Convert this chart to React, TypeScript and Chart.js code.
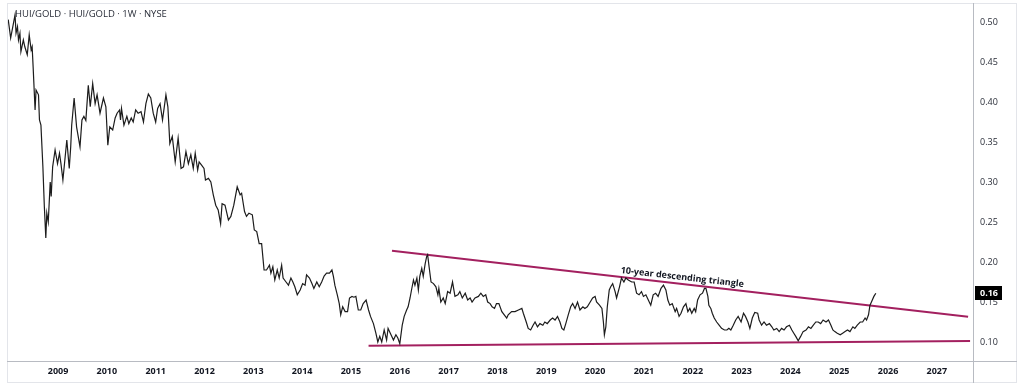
import React, { useEffect, useRef } from "react";
import { Chart, registerables } from "chart.js";

Chart.register(...registerables);

const titleText = "HUI/GOLD · HUI/GOLD · 1W · NYSE";
const annotationText = "10-year descending triangle";
const annotationDate = 2021.77;

const yearTicks = [2009, 2010, 2011, 2012, 2013, 2014, 2015, 2016, 2017, 2018, 2019, 2020, 2021, 2022, 2023, 2024, 2025, 2026, 2027];
const priceTicks = [0.1, 0.15, 0.2, 0.25, 0.3, 0.35, 0.4, 0.45, 0.5];

const dates = [
  2007.98, 2008.03, 2008.08, 2008.12, 2008.14, 2008.17, 2008.19, 2008.22, 2008.24, 2008.29,
  2008.32, 2008.37, 2008.41, 2008.45, 2008.47, 2008.49, 2008.53, 2008.55, 2008.6, 2008.62,
  2008.65, 2008.69, 2008.72, 2008.75, 2008.77, 2008.8, 2008.84, 2008.86, 2008.89, 2008.94,
  2008.99, 2009.03, 2009.06, 2009.1, 2009.14, 2009.18, 2009.23, 2009.26, 2009.28, 2009.33,
  2009.38, 2009.45, 2009.49, 2009.53, 2009.57, 2009.62, 2009.66, 2009.71, 2009.76, 2009.8,
  2009.86, 2009.93, 2009.98, 2010.02, 2010.06, 2010.12, 2010.17, 2010.21, 2010.26, 2010.28,
  2010.3, 2010.35, 2010.41, 2010.45, 2010.5, 2010.54, 2010.59, 2010.64, 2010.7, 2010.75,
  2010.8, 2010.85, 2010.9, 2010.95, 2011.0, 2011.04, 2011.09, 2011.14, 2011.21, 2011.25,
  2011.29, 2011.34, 2011.4, 2011.46, 2011.52, 2011.57, 2011.62, 2011.67, 2011.72, 2011.77,
  2011.81, 2011.86, 2011.89, 2011.94, 2011.99, 2012.02, 2012.08, 2012.13, 2012.18, 2012.23,
  2012.28, 2012.33, 2012.36, 2012.42, 2012.49, 2012.54, 2012.6, 2012.67, 2012.73, 2012.76,
  2012.82, 2012.86, 2012.91, 2012.98, 2013.02, 2013.07, 2013.12, 2013.17, 2013.22, 2013.27,
  2013.33, 2013.36, 2013.4, 2013.44, 2013.49, 2013.53, 2013.58, 2013.61, 2013.67, 2013.72,
  2013.77, 2013.81, 2013.85, 2013.9, 2013.96, 2014.01, 2014.06, 2014.09, 2014.15, 2014.2,
  2014.24, 2014.3, 2014.35, 2014.4, 2014.45, 2014.5, 2014.56, 2014.61, 2014.64, 2014.67,
  2014.72, 2014.76, 2014.79, 2014.83, 2014.88, 2014.93, 2014.97, 2015.02, 2015.06, 2015.1,
  2015.15, 2015.2, 2015.25, 2015.31, 2015.36, 2015.4, 2015.46, 2015.51, 2015.55, 2015.59,
  2015.63, 2015.68, 2015.73, 2015.76, 2015.82, 2015.87, 2015.92, 2015.96, 2016.0, 2016.05,
  2016.09, 2016.14, 2016.17, 2016.21, 2016.24, 2016.28, 2016.31, 2016.35, 2016.38, 2016.41,
  2016.45, 2016.48, 2016.52, 2016.55, 2016.57, 2016.6, 2016.64, 2016.69, 2016.74, 2016.78,
  2016.8, 2016.84, 2016.89, 2016.93, 2016.98, 2017.03, 2017.08, 2017.13, 2017.19, 2017.23,
  2017.28, 2017.34, 2017.39, 2017.44, 2017.48, 2017.54, 2017.61, 2017.66, 2017.71, 2017.76,
  2017.8, 2017.85, 2017.89, 2017.94, 2017.98, 2018.03, 2018.09, 2018.14, 2018.19, 2018.22,
  2018.29, 2018.36, 2018.43, 2018.5, 2018.53, 2018.59, 2018.63, 2018.68, 2018.73, 2018.77,
  2018.82, 2018.87, 2018.93, 2018.97, 2019.02, 2019.08, 2019.13, 2019.18, 2019.23, 2019.28,
  2019.32, 2019.36, 2019.4, 2019.45, 2019.5, 2019.54, 2019.59, 2019.64, 2019.69, 2019.75,
  2019.79, 2019.84, 2019.9, 2019.95, 2020.0, 2020.03, 2020.09, 2020.14, 2020.17, 2020.19,
  2020.22, 2020.25, 2020.29, 2020.32, 2020.36, 2020.41, 2020.44, 2020.5, 2020.54, 2020.59,
  2020.63, 2020.68, 2020.75, 2020.8, 2020.85, 2020.9, 2020.95, 2020.99, 2021.04, 2021.09,
  2021.14, 2021.19, 2021.24, 2021.29, 2021.35, 2021.4, 2021.45, 2021.49, 2021.53, 2021.58,
  2021.64, 2021.67, 2021.72, 2021.76, 2021.81, 2021.86, 2021.9, 2021.94, 2021.98, 2022.03,
  2022.06, 2022.1, 2022.15, 2022.2, 2022.24, 2022.27, 2022.31, 2022.33, 2022.37, 2022.4,
  2022.44, 2022.49, 2022.54, 2022.59, 2022.65, 2022.7, 2022.74, 2022.78, 2022.83, 2022.88,
  2022.93, 2022.99, 2023.04, 2023.08, 2023.13, 2023.17, 2023.22, 2023.27, 2023.33, 2023.36,
  2023.41, 2023.46, 2023.51, 2023.57, 2023.62, 2023.66, 2023.72, 2023.77, 2023.82, 2023.87,
  2023.92, 2023.98, 2024.03, 2024.07, 2024.11, 2024.16, 2024.21, 2024.26, 2024.32, 2024.37,
  2024.42, 2024.47, 2024.52, 2024.57, 2024.62, 2024.67, 2024.73, 2024.78, 2024.83, 2024.87,
  2024.91, 2024.96, 2025.02, 2025.07, 2025.12, 2025.17, 2025.22, 2025.28, 2025.32, 2025.37,
  2025.43, 2025.48, 2025.53, 2025.56, 2025.6, 2025.63, 2025.66, 2025.71, 2025.75,
];

const values = [
  0.503, 0.48, 0.496, 0.509, 0.486, 0.494, 0.4775, 0.486, 0.463, 0.4775,
  0.469, 0.459, 0.484, 0.465, 0.469, 0.444, 0.39, 0.415, 0.409, 0.3775,
  0.371, 0.319, 0.269, 0.23, 0.261, 0.25, 0.3, 0.282, 0.319, 0.34,
  0.323, 0.336, 0.323, 0.3025, 0.3275, 0.3525, 0.317, 0.344, 0.371, 0.405,
  0.369, 0.344, 0.3775, 0.382, 0.377, 0.421, 0.394, 0.423, 0.398, 0.409,
  0.386, 0.405, 0.394, 0.346, 0.369, 0.365, 0.38, 0.386, 0.39, 0.3775,
  0.392, 0.371, 0.382, 0.373, 0.38, 0.375, 0.39, 0.386, 0.388, 0.375,
  0.398, 0.41, 0.405, 0.386, 0.375, 0.392, 0.398, 0.3775, 0.409, 0.394,
  0.348, 0.357, 0.325, 0.355, 0.317, 0.319, 0.338, 0.323, 0.334, 0.317,
  0.336, 0.315, 0.325, 0.321, 0.317, 0.3025, 0.3045, 0.3, 0.284, 0.271,
  0.265, 0.248, 0.273, 0.271, 0.2525, 0.257, 0.271, 0.294, 0.284, 0.286,
  0.263, 0.257, 0.261, 0.259, 0.24, 0.238, 0.223, 0.223, 0.19, 0.19,
  0.196, 0.186, 0.194, 0.1775, 0.19, 0.18, 0.196, 0.18, 0.175, 0.171,
  0.18, 0.175, 0.169, 0.159, 0.165, 0.173, 0.171, 0.184, 0.18, 0.173,
  0.167, 0.175, 0.169, 0.175, 0.1825, 0.186, 0.186, 0.19, 0.182, 0.171,
  0.159, 0.148, 0.134, 0.144, 0.138, 0.138, 0.155, 0.157, 0.156, 0.157,
  0.14, 0.14, 0.148, 0.1525, 0.14, 0.132, 0.123, 0.111, 0.1, 0.107,
  0.1, 0.115, 0.1025, 0.117, 0.109, 0.1025, 0.109, 0.105, 0.098, 0.121,
  0.132, 0.14, 0.144, 0.155, 0.165, 0.1775, 0.171, 0.18, 0.165, 0.182,
  0.192, 0.182, 0.198, 0.2066, 0.209, 0.194, 0.175, 0.173, 0.169, 0.159,
  0.167, 0.15, 0.155, 0.148, 0.163, 0.161, 0.175, 0.157, 0.159, 0.163,
  0.155, 0.161, 0.1525, 0.155, 0.15, 0.155, 0.157, 0.161, 0.157, 0.159,
  0.15, 0.148, 0.144, 0.142, 0.148, 0.148, 0.138, 0.134, 0.13, 0.134,
  0.138, 0.138, 0.14, 0.142, 0.136, 0.125, 0.117, 0.115, 0.121, 0.125,
  0.119, 0.123, 0.121, 0.125, 0.123, 0.1275, 0.13, 0.1275, 0.132, 0.125,
  0.117, 0.115, 0.123, 0.134, 0.144, 0.148, 0.142, 0.15, 0.14, 0.144,
  0.142, 0.144, 0.15, 0.155, 0.157, 0.15, 0.146, 0.142, 0.125, 0.109,
  0.119, 0.144, 0.165, 0.169, 0.173, 0.163, 0.155, 0.169, 0.18, 0.175,
  0.18, 0.1775, 0.175, 0.175, 0.161, 0.159, 0.163, 0.157, 0.159, 0.1525,
  0.146, 0.159, 0.161, 0.157, 0.167, 0.171, 0.165, 0.1525, 0.146, 0.148,
  0.138, 0.142, 0.132, 0.136, 0.144, 0.148, 0.138, 0.142, 0.136, 0.142,
  0.138, 0.1525, 0.159, 0.161, 0.167, 0.167, 0.157, 0.146, 0.142, 0.136,
  0.13, 0.125, 0.121, 0.117, 0.115, 0.115, 0.117, 0.115, 0.121, 0.1275,
  0.132, 0.125, 0.136, 0.132, 0.125, 0.117, 0.13, 0.137, 0.136, 0.1275,
  0.121, 0.125, 0.121, 0.123, 0.119, 0.115, 0.117, 0.113, 0.117, 0.115,
  0.119, 0.121, 0.115, 0.111, 0.107, 0.1016, 0.107, 0.113, 0.115, 0.119,
  0.117, 0.121, 0.125, 0.125, 0.123, 0.1275, 0.125, 0.1275, 0.121, 0.115,
  0.113, 0.111, 0.109, 0.111, 0.113, 0.115, 0.113, 0.119, 0.117, 0.121,
  0.125, 0.125, 0.13, 0.1275, 0.134, 0.146, 0.15, 0.157, 0.161,
];

const upperTrendDates = [2015.84, 2027.64];
const upperTrendValues = [0.214, 0.1317];
const lowerTrendDates = [2015.36, 2027.68];
const lowerTrendValues = [0.0954, 0.1011];

const xMin = 2007.955;
const xMax = 2027.74;
const yMin = 0.07625;
const yMax = 0.5225;

const FONT = '"Open Sans", "DejaVu Sans", sans-serif';
const TEXT = "#131722";
const AXIS_LINE = "#b8bbc2";
const FRAME = "#e3e5ea";
const TREND = "#a3205f";

const overlay = {
  id: "overlay",
  afterDraw(chart: any) {
    const { ctx, chartArea, scales } = chart;
    const W = chart.width;
    const H = chart.height;
    const fl = chartArea.left;
    const ft = 3;
    const fr = W - 7;
    const fb = H - 3;
    ctx.save();
    // frame
    ctx.strokeStyle = FRAME;
    ctx.lineWidth = 1;
    ctx.strokeRect(fl + 0.5, ft + 0.5, fr - fl - 1, fb - ft - 1);
    // axis lines
    ctx.strokeStyle = AXIS_LINE;
    ctx.beginPath();
    ctx.moveTo(Math.round(chartArea.right) + 0.5, ft);
    ctx.lineTo(Math.round(chartArea.right) + 0.5, fb);
    ctx.moveTo(fl, Math.round(chartArea.bottom) + 0.5);
    ctx.lineTo(fr, Math.round(chartArea.bottom) + 0.5);
    ctx.stroke();

    // title
    ctx.fillStyle = "#2a2e39";
    ctx.font = `9.5px ${FONT}`;
    ctx.textAlign = "left";
    ctx.textBaseline = "middle";
    ctx.fillText(titleText, fl + 8, 14);

    // annotation along the upper trend line
    const xs = scales.x;
    const ys = scales.y;
    const x1 = xs.getPixelForValue(upperTrendDates[0]);
    const y1 = ys.getPixelForValue(upperTrendValues[0]);
    const x2 = xs.getPixelForValue(upperTrendDates[1]);
    const y2 = ys.getPixelForValue(upperTrendValues[1]);
    const ang = Math.atan2(y2 - y1, x2 - x1);
    const cx = xs.getPixelForValue(annotationDate);
    const cy = y1 + ((cx - x1) * (y2 - y1)) / (x2 - x1);
    ctx.save();
    ctx.translate(cx, cy);
    ctx.rotate(ang);
    ctx.fillStyle = TEXT;
    ctx.font = `bold 9px ${FONT}`;
    ctx.textAlign = "center";
    ctx.textBaseline = "bottom";
    ctx.fillText(annotationText, 0, -2);
    ctx.restore();

    // last value label
    const last = values[values.length - 1];
    const ly = ys.getPixelForValue(last);
    const lx = chartArea.right + 2;
    ctx.fillStyle = "#000000";
    ctx.fillRect(lx, Math.round(ly) - 7, 27, 14);
    ctx.fillStyle = "#ffffff";
    ctx.font = `bold 9px ${FONT}`;
    ctx.textAlign = "left";
    ctx.textBaseline = "middle";
    ctx.fillText(last.toFixed(2), lx + 5, Math.round(ly));
    ctx.restore();
  },
};

export default function App() {
  const canvasRef = useRef<HTMLCanvasElement | null>(null);

  useEffect(() => {
    if (!canvasRef.current) return;
    const priceData = dates.map((d, i) => ({ x: d, y: values[i] }));
    const upperData = upperTrendDates.map((d, i) => ({ x: d, y: upperTrendValues[i] }));
    const lowerData = lowerTrendDates.map((d, i) => ({ x: d, y: lowerTrendValues[i] }));

    const chart = new Chart(canvasRef.current, {
      type: "line",
      data: {
        datasets: [
          {
            label: "HUI/GOLD",
            data: priceData,
            borderColor: "#1c1c1c",
            borderWidth: 1.2,
            pointRadius: 0,
            tension: 0,
          },
          {
            label: "upper",
            data: upperData,
            borderColor: TREND,
            borderWidth: 2,
            pointRadius: 0,
          },
          {
            label: "lower",
            data: lowerData,
            borderColor: TREND,
            borderWidth: 2,
            pointRadius: 0,
          },
        ],
      },
      options: {
        animation: false,
        responsive: false,
        devicePixelRatio: 1,
        layout: { padding: { left: 7, top: 4, right: 0, bottom: 0 } },
        plugins: {
          legend: { display: false },
          tooltip: { enabled: false },
        },
        events: [],
        scales: {
          x: {
            type: "linear",
            min: xMin,
            max: xMax,
            grid: { display: false, drawTicks: false },
            border: { display: false },
            afterBuildTicks: (scale: any) => {
              scale.ticks = yearTicks.map((v) => ({ value: v }));
            },
            afterFit: (scale: any) => {
              scale.height = 25;
              scale.paddingLeft = 0;
              scale.paddingRight = 0;
            },
            ticks: {
              autoSkip: false,
              maxRotation: 0,
              padding: 5,
              color: TEXT,
              font: { family: FONT, size: 9, weight: "bold" },
              callback: (v: any) => String(v),
            },
          },
          y: {
            type: "linear",
            position: "right",
            min: yMin,
            max: yMax,
            grid: { display: false, drawTicks: false },
            border: { display: false },
            afterBuildTicks: (scale: any) => {
              scale.ticks = priceTicks.map((v) => ({ value: v }));
            },
            afterFit: (scale: any) => {
              scale.width = 51;
              scale.paddingTop = 0;
              scale.paddingBottom = 0;
            },
            ticks: {
              padding: 7,
              color: "#2a2e39",
              font: { family: FONT, size: 9 },
              callback: (v: any) => Number(v).toFixed(2),
            },
          },
        },
      },
      plugins: [overlay],
    });
    return () => chart.destroy();
  }, []);

  return (
    <div style={{ position: "absolute", left: 0, top: 0, width: 1024, height: 386, background: "#ffffff" }}>
      <canvas ref={canvasRef} width={1024} height={386} style={{ width: 1024, height: 386, display: "block" }} />
    </div>
  );
}
